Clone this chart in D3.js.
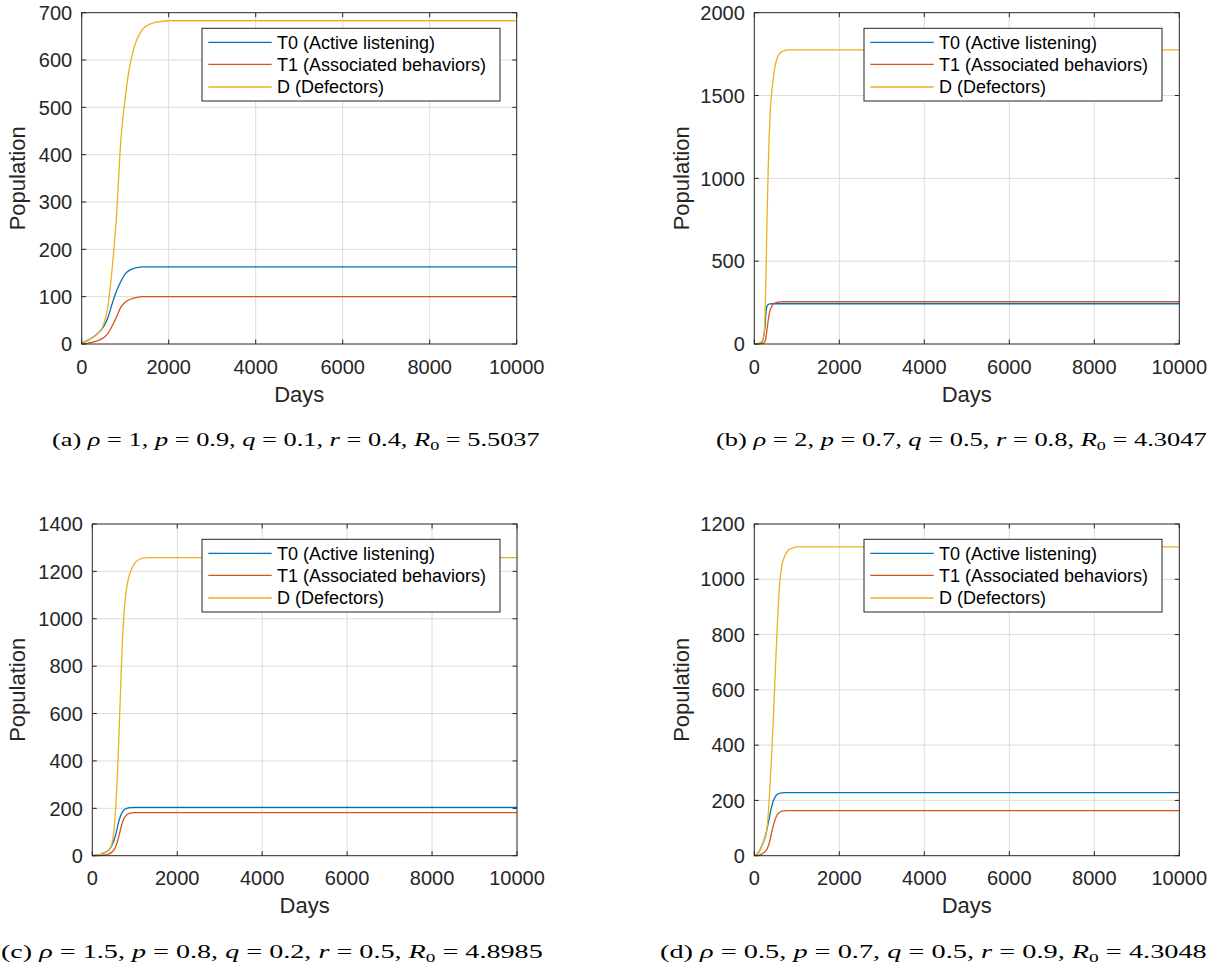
<!DOCTYPE html>
<html><head><meta charset="utf-8">
<script src="https://cdn.jsdelivr.net/npm/d3@7"></script>
<style>body{margin:0;background:#fff} svg{display:block}</style>
</head><body><svg id="c" width="1222" height="965"></svg>
<script>
// ---------- data ----------
const seriesNames = ["T0 (Active listening)", "T1 (Associated behaviors)", "D (Defectors)"];
const seriesColors = ["#0072BD", "#D95319", "#EDB120"];
const xTicks = [0, 2000, 4000, 6000, 8000, 10000];

// panel (a)
const aDays = [0,100,200,300,400,500,600,700,800,900,1000,1100,1200,1300,1400,1600,1800,2000,2500,10000];
const aT0   = [1,6,11,17,25,36,55,85,112,132,148,156,160,162,163,163,163,163,163,163];
const aT1   = [0,1,3,5,8,13,22,38,57,78,88,94,97,99,100,100,100,100,100,100];
const aD    = [1,6,11,17,25,40,78,160,270,430,520,585,625,650,665,677,681,683,683,683];
const yTicksA = [0,100,200,300,400,500,600,700];

// panel (b)
const bDays = [0,50,100,150,175,200,225,250,275,300,325,350,375,400,450,500,550,600,700,800,1000,10000];
const bT0   = [0,1,3,8,13,25,50,100,190,230,238,241,242,243,243,243,243,243,243,243,243,243];
const bT1   = [0,0,1,2,3,5,8,14,40,90,138,180,205,222,242,249,252,254,255,255,255,255];
const bD    = [0,1,4,10,15,22,50,150,420,760,1040,1250,1400,1490,1610,1690,1735,1755,1770,1775,1776,1776];
const yTicksB = [0,500,1000,1500,2000];

// panel (c)
const cDays = [0,100,200,300,350,400,450,500,550,600,650,700,750,800,850,900,1000,1100,1200,1400,10000];
const cT0   = [0,2,6,14,19,27,40,60,88,128,160,182,194,199,202,203,204,204,204,204,204];
const cT1   = [0,0,1,3,5,8,14,22,38,65,100,135,158,171,177,180,182,182,182,182,182];
const cD    = [0,2,6,14,19,27,45,90,200,380,620,870,1030,1120,1170,1200,1235,1250,1256,1258,1258];
const yTicksC = [0,200,400,600,800,1000,1200,1400];

// panel (d)
const dDays = [0,50,100,150,200,250,300,350,400,450,500,550,600,650,700,800,900,1000,10000];
const dT0   = [0,4,12,26,45,65,97,135,172,200,215,223,226,227,228,228,228,228,228];
const dT1   = [0,1,2,4,8,14,24,45,78,110,135,150,157,161,162,163,163,163,163];
const dD    = [0,4,12,26,45,63,100,200,340,500,690,860,990,1050,1078,1105,1113,1117,1117];
const yTicksD = [0,200,400,600,800,1000,1200];

// captions
const capLetters = ["a","b","c","d"];
const capRho = ["1","2","1.5","0.5"];
const capP   = ["0.9","0.7","0.8","0.7"];
const capQ   = ["0.1","0.5","0.2","0.5"];
const capR   = ["0.4","0.8","0.5","0.9"];
const capR0  = ["5.5037","4.3047","4.8985","4.3048"];

// ---------- layout ----------
const panels = [
  {days:aDays, series:[aT0,aT1,aD], yMax:700,  yTicks:yTicksA, L:81.7,  R:516.7,  T:12.7, B:344,   legX:202, legY:28.3,  ylabX:25,  capX0:52,  capX1:540,  capY:446},
  {days:bDays, series:[bT0,bT1,bD], yMax:2000, yTicks:yTicksB, L:754.3, R:1179.3, T:12.7, B:344,   legX:864, legY:28.3,  ylabX:689, capX0:716, capX1:1207, capY:446},
  {days:cDays, series:[cT0,cT1,cD], yMax:1400, yTicks:yTicksC, L:92.3,  R:517,    T:524,  B:855.7, legX:202, legY:539.3, ylabX:25,  capX0:1,   capX1:543,  capY:958},
  {days:dDays, series:[dT0,dT1,dD], yMax:1200, yTicks:yTicksD, L:754.3, R:1179.3, T:524,  B:855.7, legX:864, legY:539.3, ylabX:689, capX0:660, capX1:1207, capY:958}
];

const svg = d3.select("#c");
const axisColor = "#262626";
const sans = "'Liberation Sans', Arial, Helvetica, sans-serif";

panels.forEach((p, i) => {
  const x = d3.scaleLinear().domain([0, 10000]).range([p.L, p.R]);
  const y = d3.scaleLinear().domain([0, p.yMax]).range([p.B, p.T]);
  const g = svg.append("g");

  // grid
  g.append("g").selectAll("line").data(xTicks.slice(1, -1)).join("line")
    .attr("x1", d => x(d)).attr("x2", d => x(d)).attr("y1", p.T).attr("y2", p.B)
    .attr("stroke", "#dcdcdc").attr("stroke-width", 1);
  g.append("g").selectAll("line").data(p.yTicks.slice(1, -1)).join("line")
    .attr("y1", d => y(d)).attr("y2", d => y(d)).attr("x1", p.L).attr("x2", p.R)
    .attr("stroke", "#dcdcdc").attr("stroke-width", 1);

  // series lines
  const clipId = "clip" + i;
  svg.append("clipPath").attr("id", clipId).append("rect")
    .attr("x", p.L).attr("y", p.T - 1).attr("width", p.R - p.L).attr("height", p.B - p.T + 2);
  const line = d3.line().x((d, k) => x(p.days[k])).y(d => y(d)).curve(d3.curveMonotoneX);
  p.series.forEach((s, k) => {
    g.append("path").attr("d", line(s)).attr("fill", "none")
      .attr("stroke", seriesColors[k]).attr("stroke-width", 1.3)
      .attr("clip-path", `url(#${clipId})`);
  });

  // axes (box with inward ticks)
  const tl = 4.5;
  const ax = g.append("g").attr("stroke", axisColor).attr("stroke-width", 1);
  ax.append("rect").attr("x", p.L).attr("y", p.T).attr("width", p.R - p.L).attr("height", p.B - p.T).attr("fill", "none");
  xTicks.forEach(t => {
    ax.append("line").attr("x1", x(t)).attr("x2", x(t)).attr("y1", p.B).attr("y2", p.B - tl);
    ax.append("line").attr("x1", x(t)).attr("x2", x(t)).attr("y1", p.T).attr("y2", p.T + tl);
  });
  p.yTicks.forEach(t => {
    ax.append("line").attr("y1", y(t)).attr("y2", y(t)).attr("x1", p.L).attr("x2", p.L + tl);
    ax.append("line").attr("y1", y(t)).attr("y2", y(t)).attr("x1", p.R).attr("x2", p.R - tl);
  });

  // tick labels
  g.append("g").selectAll("text").data(xTicks).join("text")
    .attr("x", d => x(d)).attr("y", p.B + 29.5).attr("text-anchor", "middle")
    .attr("font-family", sans).attr("font-size", 20).attr("fill", axisColor).text(d => d);
  g.append("g").selectAll("text").data(p.yTicks).join("text")
    .attr("x", p.L - 9.5).attr("y", d => y(d) + 7.2).attr("text-anchor", "end")
    .attr("font-family", sans).attr("font-size", 20).attr("fill", axisColor).text(d => d);

  // axis labels
  g.append("text").attr("x", (p.L + p.R) / 2).attr("y", p.B + 57.5).attr("text-anchor", "middle")
    .attr("font-family", sans).attr("font-size", 22).attr("fill", axisColor).text("Days");
  g.append("text").attr("transform", `translate(${p.ylabX},${(p.T + p.B) / 2}) rotate(-90)`)
    .attr("text-anchor", "middle").attr("font-family", sans).attr("font-size", 22)
    .attr("fill", axisColor).text("Population");

  // legend
  const lg = g.append("g").attr("transform", `translate(${p.legX},${p.legY})`);
  lg.append("rect").attr("width", 298).attr("height", 72.7).attr("fill", "#fff")
    .attr("stroke", axisColor).attr("stroke-width", 1);
  const rows = [14, 36, 58.7];
  seriesNames.forEach((n, k) => {
    lg.append("line").attr("x1", 6.3).attr("x2", 69.7).attr("y1", rows[k]).attr("y2", rows[k])
      .attr("stroke", seriesColors[k]).attr("stroke-width", 1.3);
    lg.append("text").attr("x", 75).attr("y", rows[k] + 6.4).attr("font-family", sans)
      .attr("font-size", 18).attr("fill", "#000").text(n);
  });

  // caption
  const cap = svg.append("text").attr("font-family", "'Liberation Serif', 'Times New Roman', serif")
    .attr("font-size", 19).attr("fill", "#000");
  const parts = [
    [`(${capLetters[i]}) `, false], ["ρ", true], [` = ${capRho[i]}, `, false],
    ["p", true], [` = ${capP[i]}, `, false], ["q", true], [` = ${capQ[i]}, `, false],
    ["r", true], [` = ${capR[i]}, `, false], ["R", true]
  ];
  parts.forEach(([t, it]) => cap.append("tspan").attr("font-style", it ? "italic" : "normal").text(t));
  cap.append("tspan").attr("font-size", 13).attr("dy", 4).text("0");
  cap.append("tspan").attr("dy", -4).text(` = ${capR0[i]}`);
  const w = cap.node().getComputedTextLength();
  const sx = (p.capX1 - p.capX0) / w;
  cap.attr("transform", `translate(${p.capX0},${p.capY}) scale(${sx},1)`);
});
</script></body></html>
